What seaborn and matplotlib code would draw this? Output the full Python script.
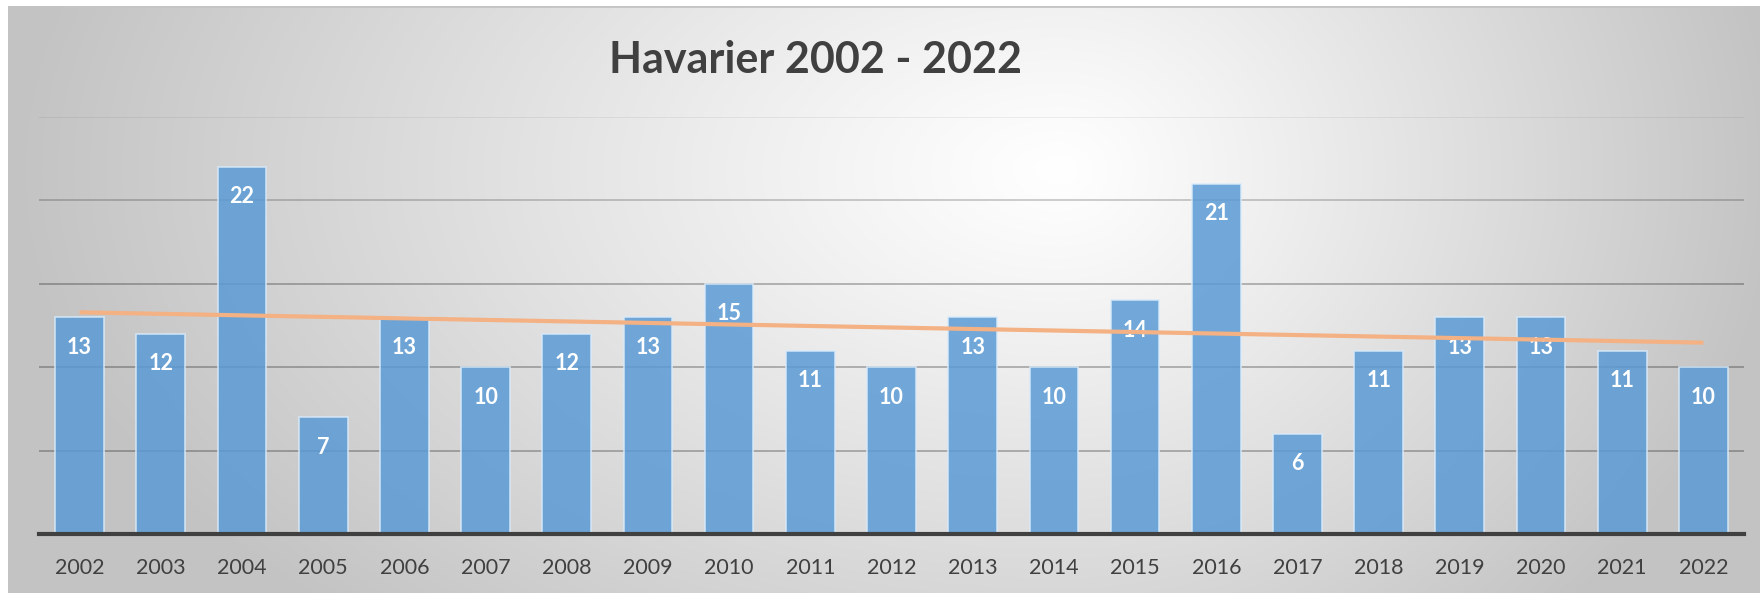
import numpy as np
import pandas as pd
import matplotlib.pyplot as plt
import seaborn as sns

# -----------------------------
# DATA
# -----------------------------
years = [str(y) for y in range(2002, 2023)]
havarier = [13, 12, 22, 7, 13, 10, 12, 13, 15, 11, 10, 13, 10, 14, 21, 6, 11, 13, 13, 11, 10]
title = "Havarier 2002 - 2022"

df = pd.DataFrame({"year": years, "count": havarier})

sns.set_theme(style="white")
plt.rcParams['font.family'] = ['Lato', 'DejaVu Sans']

W, H = 1760, 593
fig = plt.figure(figsize=(W / 100, H / 100), dpi=100, facecolor="white")

# -----------------------------
# BACKGROUND GRADIENT
# -----------------------------
bg = fig.add_axes([8 / W, 0, 1 - 8 / W, 1 - 6 / H], zorder=-10)
xs = np.linspace(8, W, 600)
ys = np.linspace(6, H, 220)
gx, gy = np.meshgrid(xs, ys)
cx, cy = 1060, 170
dx = np.where(gx < cx, (gx - cx) / 1050, (gx - cx) / 720)
dy = (gy - cy) / 620
r = np.clip(np.sqrt(dx ** 2 + dy ** 2), 0, 1)
shade = 1 - 0.235 * r ** 1.1
bg.imshow(np.dstack([shade] * 3), aspect="auto", extent=[0, 1, 0, 1])
bg.axhline(1, color="#c4c4c4", lw=2)
bg.set_axis_off()

# -----------------------------
# BARS
# -----------------------------
ax = fig.add_axes([39 / W, 59 / H, 1705 / W, 417 / H])
ax.patch.set_alpha(0)

for v, a in zip([5, 10, 15, 20, 25], [0.3, 0.3, 0.3, 0.22, 0.07]):
    ax.axhline(v, color="black", alpha=a, lw=1.2, zorder=0)

sns.barplot(data=df, x="year", y="count", color="#5B9BD5", width=0.6,
            alpha=0.85, edgecolor=(0.85, 0.92, 0.98, 0.6), linewidth=1.2,
            saturation=1, ax=ax, zorder=2)

for i, v in enumerate(havarier):
    ax.annotate(str(v), xy=(i, v), xytext=(0, -21.5), textcoords="offset points",
                ha="center", va="center", color="white", fontsize=15.5,
                fontweight="bold", zorder=3)

# linear trend line
xi = np.arange(len(havarier))
k, m = np.polyfit(xi, havarier, 1)
ax.plot(xi, k * xi + m, color="#F4B183", lw=3, zorder=4, solid_capstyle="butt")

ax.set_ylim(0, 25)
ax.set_xlim(-0.5, len(years) - 0.5)
ax.set_xlabel("")
ax.set_ylabel("")
ax.set_yticks([])
for s in ["top", "right", "left"]:
    ax.spines[s].set_visible(False)
ax.spines["bottom"].set_color("#404040")
ax.spines["bottom"].set_linewidth(3)
ax.spines["bottom"].set_zorder(5)
ax.tick_params(axis="x", length=0, pad=17, labelsize=15.5, labelcolor="#404040")

fig.text(815 / W, 1 - 60 / H, title, ha="center", va="center",
         fontsize=31, fontweight="bold", color="#404040")

fig.savefig("out.png", dpi=100, facecolor="white")
